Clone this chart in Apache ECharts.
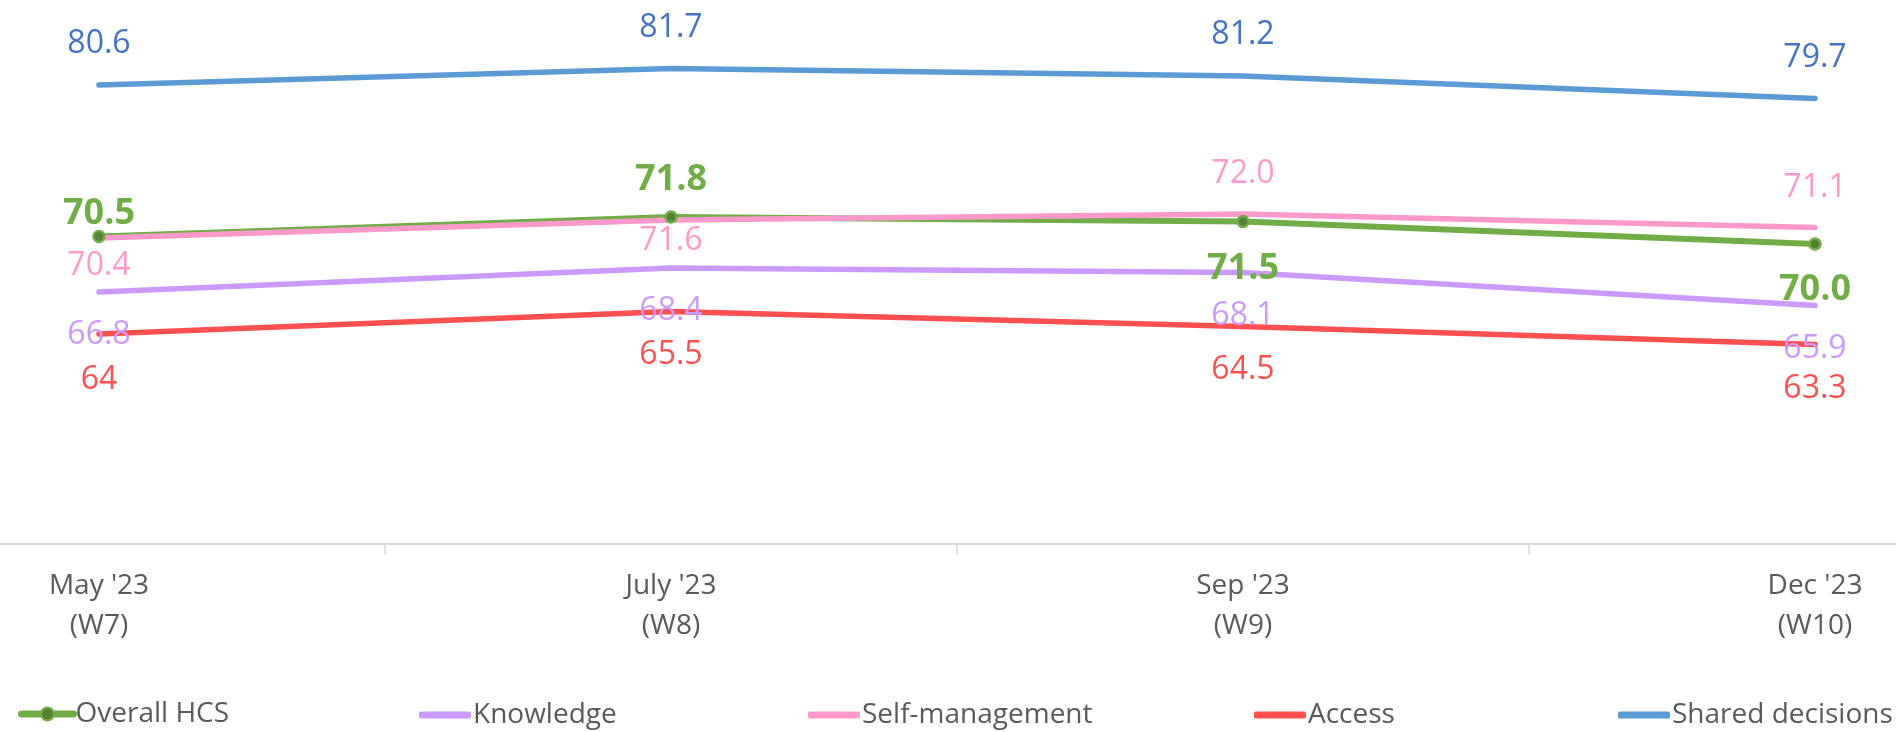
<!DOCTYPE html>
<html>
<head>
<meta charset="utf-8">
<script src="https://cdn.jsdelivr.net/npm/echarts@6/dist/echarts.min.js"></script>
<style>
  html, body { margin: 0; padding: 0; background: #ffffff; }
  #chart { width: 1896px; height: 732px; }
</style>
</head>
<body>
<div id="chart"></div>
<script>
// ---- Data ----
const categories = ["May '23\n(W7)", "July '23\n(W8)", "Sep '23\n(W9)", "Dec '23\n(W10)"];
const overallHCS = [70.5, 71.8, 71.5, 70.0];
const knowledge = [66.8, 68.4, 68.1, 65.9];
const selfManagement = [70.4, 71.6, 72.0, 71.1];
const access = [64, 65.5, 64.5, 63.3];
const sharedDecisions = [80.6, 81.7, 81.2, 79.7];

// ---- Label placement (pixel offsets of each label from its point) ----
const overallLabelOffset = [-23, -37, 47, 46];
const knowledgeLabelOffset = [43, 43, 43, 43];
const selfLabelOffset = [28, 21, -40, -40];
const accessLabelOffset = [46, 43, 43, 44];
const sharedLabelOffset = [-41, -41, -41, -41];

const FONT = "'Open Sans', 'Noto Sans', sans-serif";

function items(values, offsets) {
  return values.map((v, i) => ({ value: v, label: { offset: [0, offsets[i]] } }));
}

function lineSeries(name, values, offsets, color, labelColor, opts) {
  opts = opts || {};
  return {
    name: name,
    type: 'line',
    data: items(values, offsets),
    symbol: 'circle',
    symbolSize: opts.symbolSize || 1,
    showSymbol: true,
    lineStyle: { color: color, width: opts.width || 5.5, cap: 'round', join: 'round' },
    itemStyle: opts.itemStyle || { color: color },
    label: {
      show: true,
      position: 'inside',
      align: 'center',
      verticalAlign: 'middle',
      color: labelColor,
      fontFamily: FONT,
      fontSize: opts.fontSize || 32,
      fontWeight: opts.fontWeight || 'normal',
      formatter: opts.formatter || (p => Number(p.value).toFixed(1))
    },
    emphasis: { disabled: true },
    animation: false
  };
}

function legendAt(name, left, icon) {
  const l = {
    data: [name],
    left: left,
    top: 696,
    itemWidth: 52,
    itemHeight: icon ? 7 : 16,
    itemGap: 0,
    textStyle: { fontFamily: FONT, fontSize: 28, color: '#595959', padding: [0, 0, 0, -3] },
    selectedMode: false
  };
  if (icon) l.icon = icon;
  else {
    l.top = 695;
    l.lineStyle = { width: 7, cap: 'round' };
    l.itemStyle = { color: '#548235', borderColor: '#70AD47', borderWidth: 2 };
  }
  return l;
}

const chart = echarts.init(document.getElementById('chart'), null, { renderer: 'canvas' });
chart.setOption({
  backgroundColor: '#ffffff',
  animation: false,
  textStyle: { fontFamily: FONT },
  grid: { left: -187, right: -205, top: 4, bottom: 188, containLabel: false, outerBoundsMode: 'none' },
  legend: [
    legendAt('Overall HCS', 13, null),
    legendAt('Knowledge', 414, 'roundRect'),
    legendAt('Self-management', 803, 'roundRect'),
    legendAt('Access', 1249, 'roundRect'),
    legendAt('Shared decisions', 1613, 'roundRect')
  ],
  xAxis: {
    type: 'category',
    data: categories,
    boundaryGap: true,
    axisLine: { lineStyle: { color: '#D9D9D9', width: 2 } },
    axisTick: { show: true, length: 10, lineStyle: { color: '#D9D9D9', width: 1.5 } },
    axisLabel: { color: '#595959', fontFamily: FONT, fontSize: 28, lineHeight: 40, margin: 22 },
    splitLine: { show: false }
  },
  yAxis: {
    type: 'value',
    min: 50,
    max: 86,
    show: false,
    splitLine: { show: false }
  },
  series: [
    lineSeries('Overall HCS', overallHCS, overallLabelOffset, '#70AD47', '#70AD47', {
      width: 6,
      symbolSize: 11,
      itemStyle: { color: '#548235', borderColor: '#70AD47', borderWidth: 2.5 },
      fontSize: 36,
      fontWeight: 'bold'
    }),
    lineSeries('Knowledge', knowledge, knowledgeLabelOffset, '#CC99FF', '#CC99FF'),
    lineSeries('Self-management', selfManagement, selfLabelOffset, '#FF99CC', '#FF99CC'),
    lineSeries('Access', access, accessLabelOffset, '#FF5050', '#FF5050', {
      formatter: p => String(p.value)
    }),
    lineSeries('Shared decisions', sharedDecisions, sharedLabelOffset, '#5B9BD5', '#4472C4')
  ]
});
</script>
</body>
</html>
